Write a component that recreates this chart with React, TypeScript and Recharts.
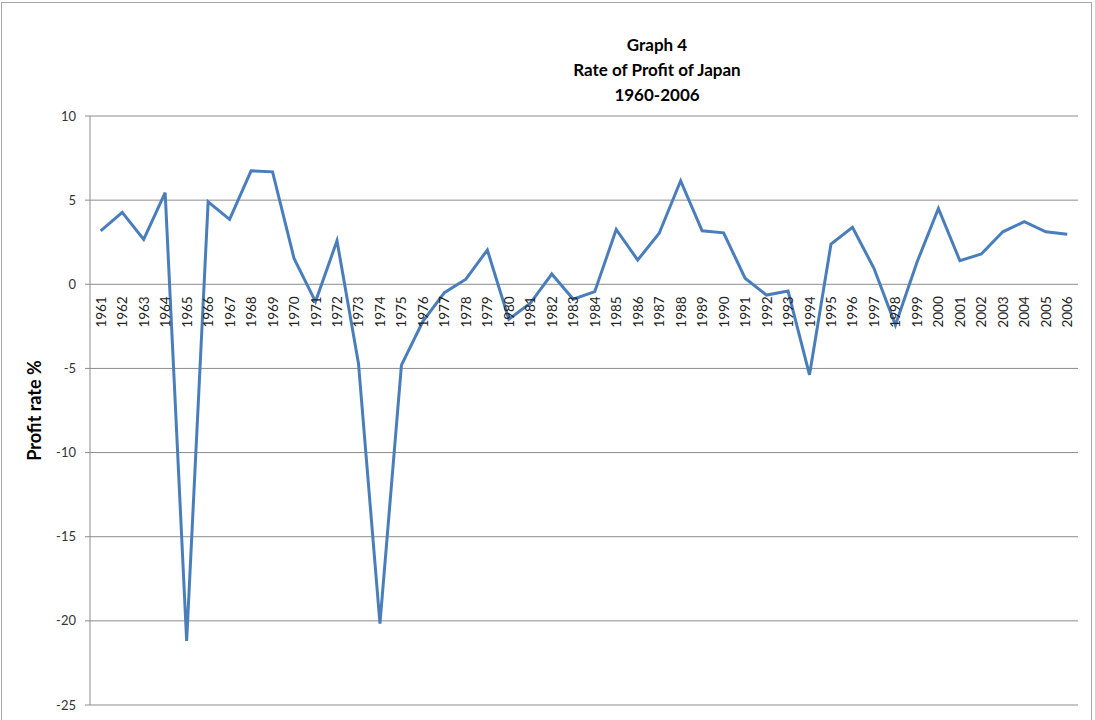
import React from 'react';
import { LineChart, Line, XAxis, YAxis, CartesianGrid } from 'recharts';

const years = [
  '1961', '1962', '1963', '1964', '1965', '1966', '1967', '1968', '1969', '1970',
  '1971', '1972', '1973', '1974', '1975', '1976', '1977', '1978', '1979', '1980',
  '1981', '1982', '1983', '1984', '1985', '1986', '1987', '1988', '1989', '1990',
  '1991', '1992', '1993', '1994', '1995', '1996', '1997', '1998', '1999', '2000',
  '2001', '2002', '2003', '2004', '2005', '2006',
];

const profitRate = [
  3.18, 4.27, 2.67, 5.44, -21.2, 4.9, 3.86, 6.74, 6.68, 1.54,
  -1.03, 2.59, -4.7, -20.16, -4.8, -2.2, -0.5, 0.3, 2.04, -2.08,
  -1.13, 0.61, -0.89, -0.44, 3.26, 1.44, 3.03, 6.15, 3.18, 3.06,
  0.36, -0.64, -0.4, -5.38, 2.39, 3.38, 0.95, -2.42, 1.3, 4.51,
  1.4, 1.8, 3.12, 3.72, 3.12, 2.98,
];

const yTicks = [10, 5, 0, -5, -10, -15, -20, -25];

const titleLines = ['Graph 4', 'Rate of Profit of Japan', '1960-2006'];

const data = years.map((year, i) => ({ year, rate: profitRate[i], axisBase: 0 }));

const YearLabel = (props: any) => {
  const { cx, cy, payload, index } = props;
  if (cx == null || cy == null) return null;
  const ay = cy + 12;
  return (
    <text
      key={`yl-${index}`}
      x={cx}
      y={ay}
      transform={`rotate(-90 ${cx} ${ay})`}
      textAnchor="end"
      dominantBaseline="central"
      fontFamily="Lato, 'Liberation Sans', sans-serif"
      fontSize={13.5}
      fill="#222"
    >
      {payload.year}
    </text>
  );
};

export default function App() {
  return (
    <div style={{ position: 'absolute', left: 0, top: 0, width: 1095, height: 720, background: '#fff' }}>
      <div
        style={{
          position: 'absolute',
          left: 1,
          top: 2,
          width: 1091,
          height: 730,
          borderLeft: '1px solid #a6a6a6',
          borderTop: '1px solid #a6a6a6',
          borderRight: '1px solid #a6a6a6',
          boxSizing: 'border-box',
        }}
      />
      <LineChart
        width={1095}
        height={720}
        data={data}
        margin={{ top: 116, right: 17, bottom: 15, left: 0 }}
      >
        <CartesianGrid vertical={false} stroke="#8c8c8c" />
        <XAxis dataKey="year" scale="band" hide height={0} />
        <YAxis
          width={90}
          domain={[-25, 10]}
          ticks={yTicks}
          interval={0}
          allowDataOverflow
          axisLine={{ stroke: '#8c8c8c' }}
          tickLine={{ stroke: '#8c8c8c' }}
          tickSize={5}
          tickMargin={9}
          tick={{ fontFamily: "Lato, 'Liberation Sans', sans-serif", fontSize: 13, fill: '#333' }}
          label={{
            value: 'Profit rate %',
            angle: -90,
            position: 'insideLeft',
            dx: 30,
            dy: 0,
            style: {
              fontFamily: "Lato, 'Liberation Sans', sans-serif",
              fontSize: 18,
              fontWeight: 700,
              fill: '#000',
              textAnchor: 'middle',
            },
          }}
        />
        <Line
          dataKey="axisBase"
          stroke="none"
          dot={YearLabel}
          activeDot={false}
          legendType="none"
          isAnimationActive={false}
        />
        <Line
          dataKey="rate"
          type="linear"
          stroke="#4a7ebb"
          strokeWidth={3}
          dot={false}
          activeDot={false}
          isAnimationActive={false}
        />
      </LineChart>
      <div
        style={{
          position: 'absolute',
          left: 457,
          top: 32,
          width: 400,
          textAlign: 'center',
          fontFamily: "Lato, 'Liberation Sans', sans-serif",
          fontWeight: 700,
          fontSize: 17,
          lineHeight: '25px',
          color: '#000',
        }}
      >
        {titleLines.map((t) => (
          <div key={t}>{t}</div>
        ))}
      </div>
    </div>
  );
}
